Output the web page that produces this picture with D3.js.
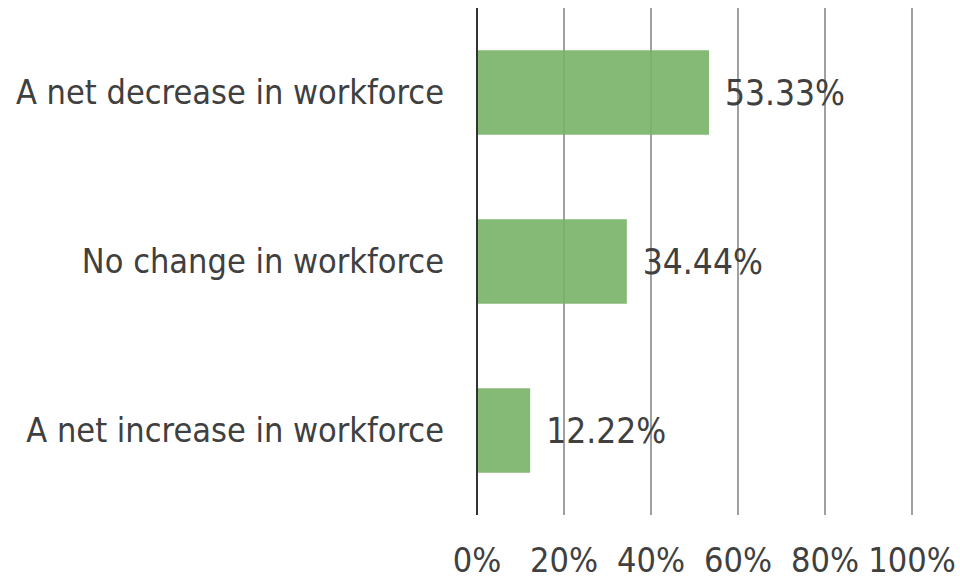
<!DOCTYPE html>
<html>
<head>
<meta charset="utf-8">
<script src="https://cdn.jsdelivr.net/npm/d3@7"></script>
<style>
  body { margin: 0; background: #fff; }
  text { font-family: "DejaVu Sans Condensed", "DejaVu Sans", sans-serif; fill: #404040; }
</style>
</head>
<body>
<svg id="chart" width="960" height="580"></svg>
<script>
// Data
const categories = ['A net decrease in workforce', 'No change in workforce', 'A net increase in workforce'];
const values = [53.33, 34.44, 12.22];
const ticks = [0, 20, 40, 60, 80, 100];

const margin = { top: 8, right: 48, bottom: 65, left: 477 };
const width = 960, height = 580;

const svg = d3.select('#chart');

const x = d3.scaleLinear().domain([0, 100]).range([margin.left, width - margin.right]);
const y = d3.scaleBand().domain(categories)
    .range([margin.top, height - margin.bottom])
    .paddingInner(0.5).paddingOuter(0.25);

// Gridlines
svg.append('g').selectAll('line')
    .data(ticks.slice(1))
    .join('line')
    .attr('x1', d => x(d)).attr('x2', d => x(d))
    .attr('y1', margin.top).attr('y2', height - margin.bottom)
    .attr('stroke', '#a0a0a0').attr('stroke-width', 2);

// Bars
const data = categories.map((c, i) => ({ label: c, value: values[i] }));
svg.append('g').selectAll('rect')
    .data(data)
    .join('rect')
    .attr('x', x(0))
    .attr('y', d => y(d.label))
    .attr('width', d => x(d.value) - x(0))
    .attr('height', y.bandwidth())
    .attr('fill', '#77b366')
    .attr('fill-opacity', 0.9);

// Value labels
svg.append('g').selectAll('text')
    .data(data)
    .join('text')
    .attr('x', d => x(d.value) + 16)
    .attr('y', d => y(d.label) + y.bandwidth() / 2)
    .attr('dy', '0.36em')
    .attr('font-size', 35)
    .text(d => d.value.toFixed(2) + '%');

// Category labels
svg.append('g').selectAll('text')
    .data(data)
    .join('text')
    .attr('x', margin.left - 33)
    .attr('y', d => y(d.label) + y.bandwidth() / 2)
    .attr('dy', '0.34em')
    .attr('text-anchor', 'end')
    .attr('font-size', 34)
    .text(d => d.label);

// Y axis line
svg.append('line')
    .attr('x1', x(0)).attr('x2', x(0))
    .attr('y1', margin.top).attr('y2', height - margin.bottom)
    .attr('stroke', '#333').attr('stroke-width', 2);

// X tick labels
svg.append('g').selectAll('text')
    .data(ticks)
    .join('text')
    .attr('x', d => x(d))
    .attr('y', 572)
    .attr('text-anchor', 'middle')
    .attr('font-size', 34)
    .text(d => d + '%');
</script>
</body>
</html>
